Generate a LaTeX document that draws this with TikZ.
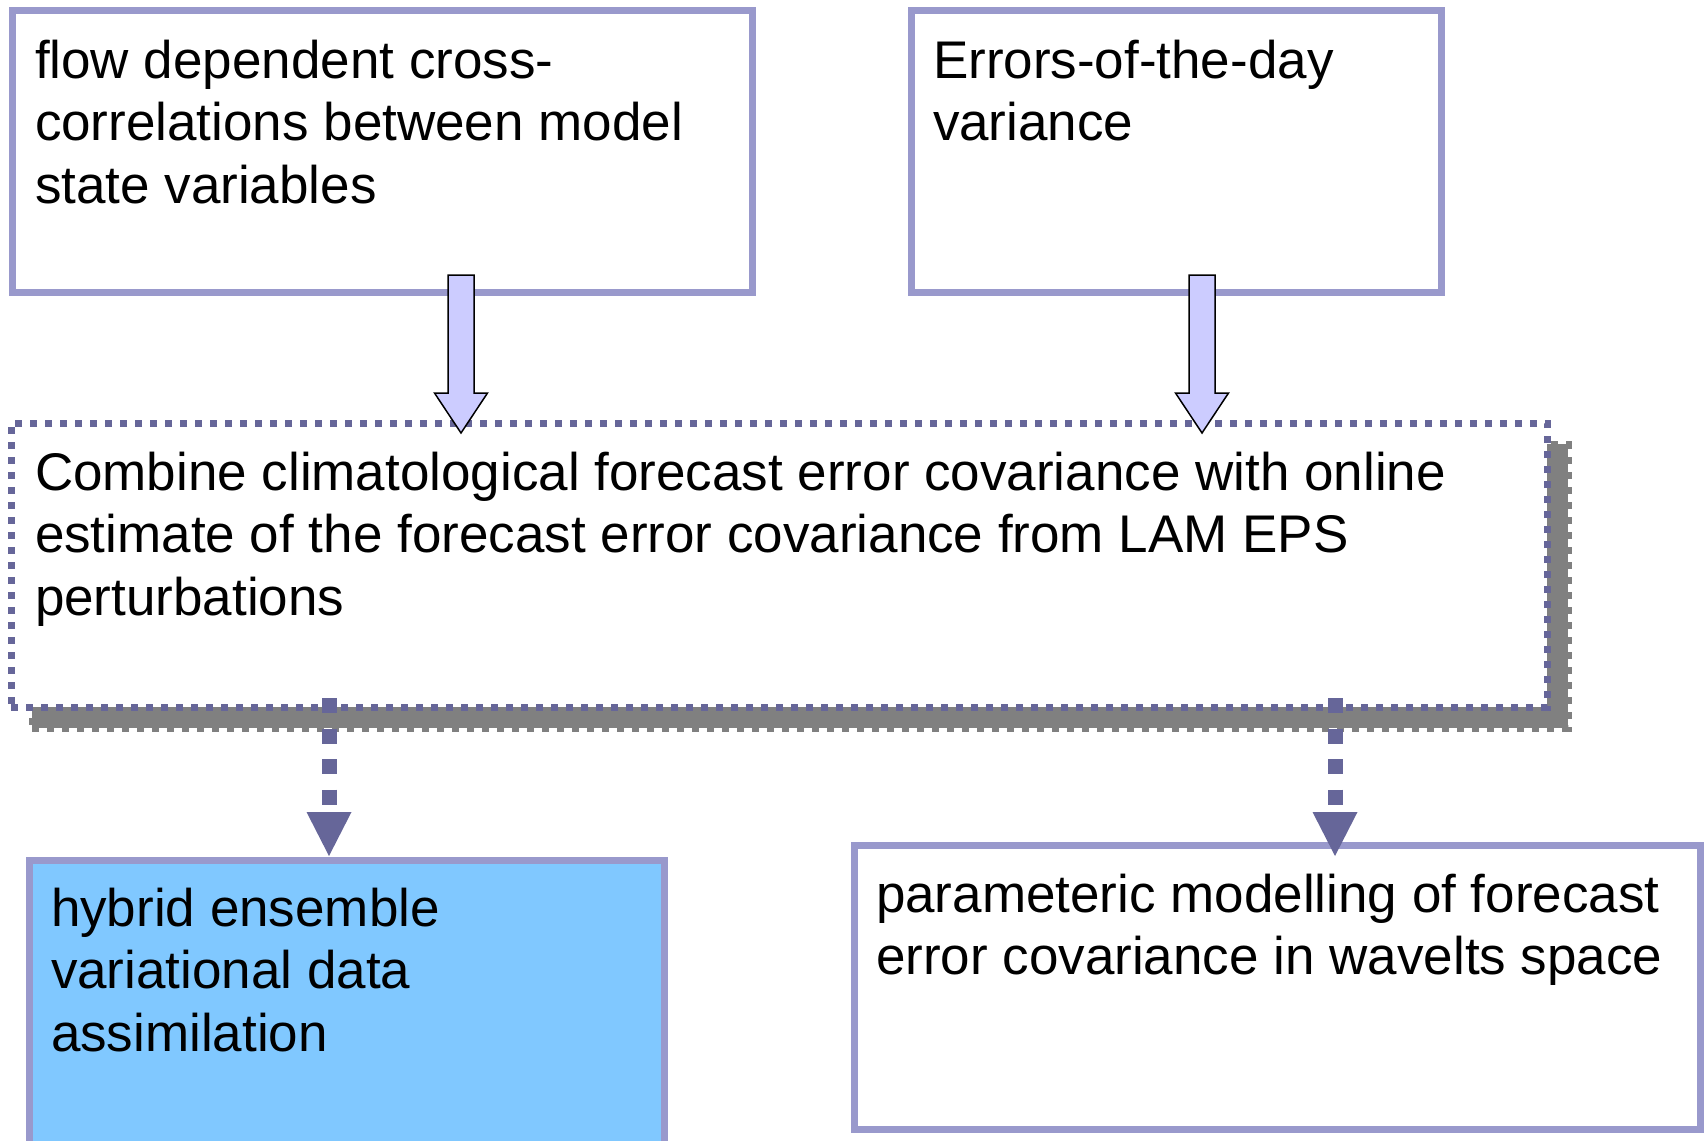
\documentclass[tikz,border=0pt]{standalone}
\usepackage{fontspec}
\setmainfont{Liberation Sans}
\usetikzlibrary{calc}
\definecolor{frameblue}{RGB}{153,153,204}
\definecolor{dotblue}{RGB}{102,102,153}
\definecolor{shadowgray}{RGB}{128,128,128}
\definecolor{arrowfill}{RGB}{204,204,255}
\definecolor{skyfill}{RGB}{128,200,255}
\tikzset{
  plainbox/.style={draw=frameblue, line width=7pt, rectangle, inner sep=0pt, outer sep=0pt, anchor=north west},
  dotbox/.style={draw=dotblue, line width=7pt, dash pattern=on 7pt off 8pt, rectangle, fill=white, inner sep=0pt, outer sep=0pt, anchor=north west},
  shadowbox/.style={draw=shadowgray, fill=shadowgray, line width=7pt, dash pattern=on 7pt off 8pt, rectangle, inner sep=0pt, outer sep=0pt, anchor=north west},
  txt/.style={anchor=base west, inner sep=0pt, outer sep=0pt, font=\fontsize{53}{62.5}\selectfont},
  blockarrow/.style={draw=black, fill=arrowfill, line width=1.5pt, line join=miter},
  dashline/.style={draw=dotblue, line width=15pt, dash pattern=on 15pt off 15.5pt},
  dashhead/.style={fill=dotblue, draw=none},
}
\newcommand{\boxtext}[1]{\parbox[t]{1600pt}{\raggedright #1}}
\begin{document}
\begin{tikzpicture}[x=1pt, y=-1pt]
  \useasboundingbox (0,0) rectangle (1704,1140);
  \clip (0,0) rectangle (1704,1140);

  % upper boxes
  \node[plainbox, minimum width=740pt, minimum height=281pt] (flow) at (12,11) {};
  \node[txt] (flowtxt) at (35,78) {\boxtext{flow dependent cross-\\correlations between model\\state variables}};

  \node[plainbox, minimum width=530pt, minimum height=281pt] (errday) at (911,11) {};
  \node[txt] (errdaytxt) at (933,78) {\boxtext{Errors-of-the-day\\variance}};

  % central box with its shadow
  \node[shadowbox, minimum width=1536pt, minimum height=284pt] (combshadow) at (32,444) {};
  \node[dotbox, minimum width=1536pt, minimum height=284pt] (comb) at (11,423) {};
  \node[txt] (combtxt) at (35,490) {\boxtext{Combine climatological forecast error covariance with online\\estimate of the forecast error covariance from LAM EPS\\perturbations}};

  % lower boxes
  \node[plainbox, fill=skyfill, minimum width=635pt, minimum height=320pt] (hybrid) at (29,860) {};
  \node[txt] (hybridtxt) at (51,926) {\boxtext{hybrid ensemble\\variational data\\assimilation}};

  \node[plainbox, minimum width=846pt, minimum height=284pt] (param) at (854,845) {};
  \node[txt] (paramtxt) at (876,912) {\boxtext{parameteric modelling of forecast\\error covariance in wavelts space}};

  % block arrows into the central box
  \coordinate (a1s) at (461,275);
  \coordinate (a1e) at (461,433);
  \coordinate (a2s) at (1202,275);
  \coordinate (a2e) at (1202,433);
  \draw[blockarrow] (a1s) ++(-13,0) -- ++(26,0) -- ++(0,118) -- ++(13.5,0) -- (a1e) -- ++(-26.5,-40) -- ++(13.5,0) -- cycle;
  \draw[blockarrow] (a2s) ++(-13,0) -- ++(26,0) -- ++(0,118) -- ++(13.5,0) -- (a2e) -- ++(-26.5,-40) -- ++(13.5,0) -- cycle;

  % dashed arrows out of the central box
  \coordinate (d1s) at (329,698);
  \coordinate (d1b) at (329,812);
  \coordinate (d1e) at (329,856);
  \coordinate (d2s) at (1335,698);
  \coordinate (d2b) at (1335,812);
  \coordinate (d2e) at (1335,856);
  \draw[dashline] (d1s) -- (d1b);
  \fill[dashhead] (d1b) ++(-22.5,0) -- ++(45,0) -- (d1e) -- cycle;
  \draw[dashline] (d2s) -- (d2b);
  \fill[dashhead] (d2b) ++(-22.5,0) -- ++(45,0) -- (d2e) -- cycle;
\end{tikzpicture}
\end{document}
